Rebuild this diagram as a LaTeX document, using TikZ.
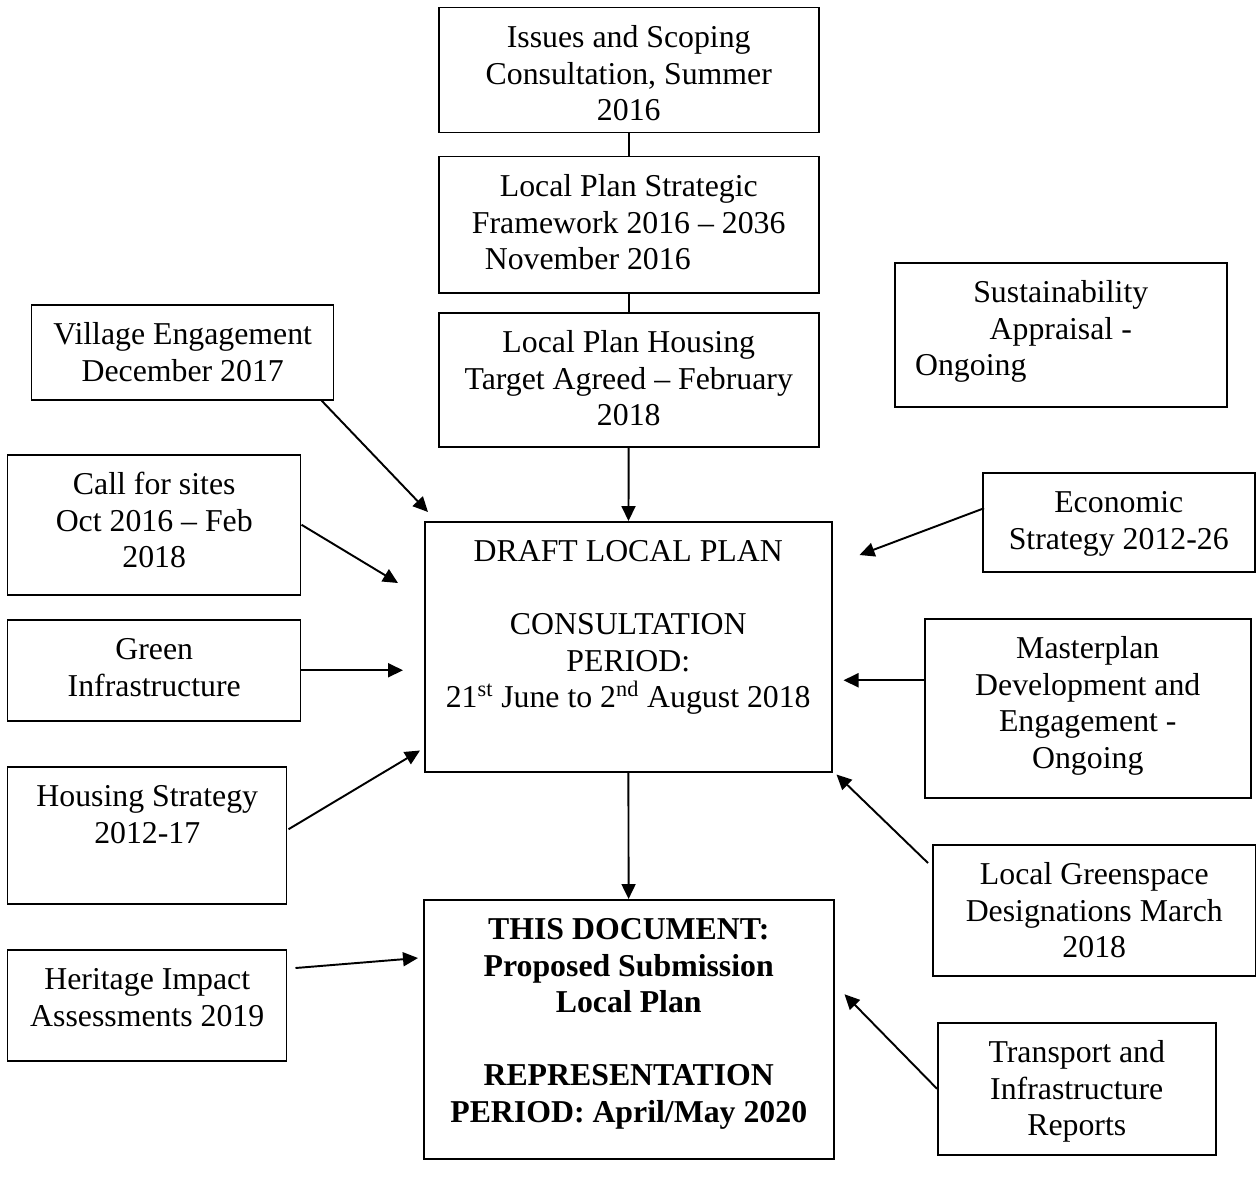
\documentclass[tikz,border=0pt]{standalone}
\usepackage{fontspec}
\setmainfont{Liberation Serif}
\usetikzlibrary{arrows.meta}
\usetikzlibrary{calc}
\newlength{\px}
\setlength{\px}{0.02cm}
\newcommand{\blkt}[3]{\parbox[c][#2\px][t]{#1\px}{\centering\vspace*{8.2pt}\strut#3}}

\begin{document}
\begin{tikzpicture}[x=0.02cm,y=-0.02cm,
    every node/.style={font=\fontsize{18.1}{20.8}\selectfont},
    blk/.style={draw, line width=0.85pt, inner sep=0pt, anchor=north west},
    arr/.style={-{Triangle[length=0.3cm,width=0.28cm]}, line width=1.1pt}]
  \useasboundingbox (0,0) rectangle (1256,1187);

  % middle column
  \node[blk] (iss) at (438,7) {\blkt{380}{125}{Issues and Scoping\\Consultation, Summer\\2016}};
  \node[blk] (lpsf) at (438,156) {\blkt{380}{136}{Local Plan Strategic\\Framework 2016 -- 2036\\November 2016\hspace*{82\px}}};
  \node[blk] (lpht) at (438,312) {\blkt{380}{134}{Local Plan Housing\\Target Agreed -- February\\2018}};
  \node[blk] (draft) at (424,521) {\blkt{407}{250}{DRAFT LOCAL PLAN\\[20.8pt]CONSULTATION\\PERIOD:\\21\textsuperscript{st} June to 2\textsuperscript{nd} August 2018}};
  \node[blk] (sub) at (423,899) {\blkt{410}{259}{\bfseries THIS DOCUMENT:\\Proposed Submission\\Local Plan\\[20.8pt]REPRESENTATION\\PERIOD: April/May 2020}};

  % left column
  \node[blk] (vil) at (31,304) {\blkt{302}{95}{Village Engagement\\December 2017}};
  \node[blk] (cfs) at (7,454) {\blkt{293}{140}{Call for sites\\Oct 2016 -- Feb\\2018}};
  \node[blk] (gi) at (7,619) {\blkt{293}{101}{Green\\Infrastructure}};
  \node[blk] (hs) at (7,766) {\blkt{279}{137}{Housing Strategy\\2012-17}};
  \node[blk] (hia) at (7,949) {\blkt{279}{111}{Heritage Impact\\Assessments 2019}};

  % right column
  \node[blk] (sa) at (894,262) {\blkt{332}{144}{Sustainability\\Appraisal -\\Ongoing\hspace*{180\px}}};
  \node[blk] (eco) at (982,472) {\blkt{272}{99}{Economic\\Strategy 2012-26}};
  \node[blk] (mp) at (924,618) {\blkt{326}{179}{Masterplan\\Development and\\Engagement -\\Ongoing}};
  \node[blk] (lgs) at (932,844) {\blkt{323}{131}{Local Greenspace\\Designations March\\2018}};
  \node[blk] (tir) at (937,1022) {\blkt{278}{132}{Transport and\\Infrastructure\\Reports}};

  \draw[line width=1.1pt] (iss) -- (lpsf);
  \draw[line width=1.1pt] (lpsf) -- (lpht);
  \draw[arr] (lpht) -- (draft);
  \draw[arr] (draft) -- (sub);

  \draw[arr] ($(vil.south east)+(-13,0)$) -- ($(draft.north west)+(4,-9)$);
  \draw[arr] (cfs.east) -- ($(draft.north west)+(-26,62)$);
  \draw[arr] (gi.east) -- ($(gi.east -| draft.west)+(-21,0)$);
  \draw[arr] ($(hs.east)+(1,-6)$) -- ($(draft.south west)+(-4,-22)$);
  \draw[arr] ($(hia.north east)+(8,19)$) -- ($(sub.north west)+(-5,59)$);

  \draw[arr] ($(eco.west)+(2,-14)$) -- ($(draft.north east)+(27,34)$);
  \draw[arr] ($(mp.west)+(0,-28)$) -- ($(draft.east |- mp.west)+(11,-28)$);
  \draw[arr] ($(lgs.north west)+(-4,19)$) -- ($(draft.south east)+(4,2)$);
  \draw[arr] (tir.west) -- ($(sub.east)+(10,-35)$);
\end{tikzpicture}
\end{document}
